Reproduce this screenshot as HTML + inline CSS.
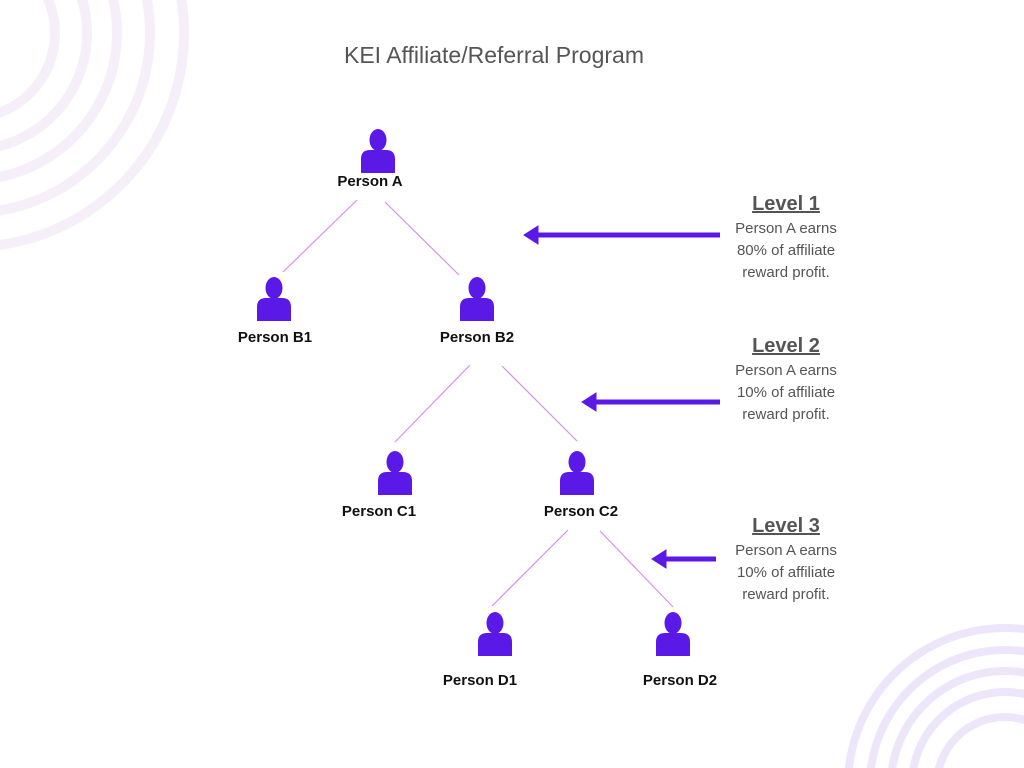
<!DOCTYPE html>
<html><head><meta charset="utf-8"><style>
html,body{margin:0;padding:0;width:1024px;height:768px;background:#fff;overflow:hidden;font-family:"Liberation Sans",sans-serif;}
svg{display:block;}
</style></head><body>
<svg width="1024" height="768" viewBox="0 0 1024 768" xmlns="http://www.w3.org/2000/svg">
<defs>
<g id="p">
<ellipse cx="0" cy="-11" rx="8.5" ry="11" fill="#5b19e8"/>
<path d="M-17,22 L-17,8 Q-17,-1 -8,-1 L8,-1 Q17,-1 17,8 L17,22 Z" fill="#5b19e8"/>
</g>
</defs>
<g fill="none" stroke="#f6effa" stroke-width="10">
<circle cx="-30" cy="33" r="85"/><circle cx="-30" cy="33" r="117"/><circle cx="-30" cy="33" r="147"/><circle cx="-30" cy="33" r="180"/><circle cx="-30" cy="33" r="214"/>
</g>
<g fill="none" stroke="#ede6fb" stroke-width="8">
<circle cx="1005" cy="785" r="68"/><circle cx="1005" cy="785" r="93"/><circle cx="1005" cy="785" r="114"/><circle cx="1005" cy="785" r="135"/><circle cx="1005" cy="785" r="157"/>
</g>
<text x="494" y="63" text-anchor="middle" font-size="23" fill="#555">KEI Affiliate/Referral Program</text>
<g stroke="#d98ef0" stroke-width="1.2">
<line x1="357" y1="200" x2="283" y2="272"/><line x1="385" y1="202" x2="459" y2="275"/>
<line x1="470" y1="365" x2="395" y2="442"/><line x1="502" y1="366" x2="577" y2="441"/>
<line x1="568" y1="530" x2="492" y2="606"/><line x1="600" y1="531" x2="673" y2="607"/>
</g>
<use href="#p" x="378" y="151"/><use href="#p" x="274" y="299"/><use href="#p" x="477" y="299"/>
<use href="#p" x="395" y="473"/><use href="#p" x="577" y="473"/><use href="#p" x="495" y="634"/><use href="#p" x="673" y="634"/>
<g font-size="15" font-weight="bold" fill="#111" text-anchor="middle">
<text x="370" y="186">Person A</text>
<text x="275" y="342">Person B1</text><text x="477" y="342">Person B2</text>
<text x="379" y="516">Person C1</text><text x="581" y="516">Person C2</text>
<text x="480" y="685">Person D1</text><text x="680" y="685">Person D2</text>
</g>
<g stroke="#5b19e8" stroke-width="5" fill="#5b19e8">
<line x1="720" y1="235" x2="535" y2="235"/><path d="M524,235 L538,226 L538,244 Z" stroke-width="1"/>
<line x1="720" y1="402" x2="593" y2="402"/><path d="M582,402 L596,393 L596,411 Z" stroke-width="1"/>
<line x1="716" y1="559" x2="663" y2="559"/><path d="M652,559 L666,550 L666,568 Z" stroke-width="1"/>
</g>
<g fill="#555" text-anchor="middle">
<text x="786" y="210" font-size="20" font-weight="bold" text-decoration="underline">Level 1</text>
<text x="786" y="233" font-size="15">Person A earns</text><text x="786" y="255" font-size="15">80% of affiliate</text><text x="786" y="277" font-size="15">reward profit.</text>
<text x="786" y="352" font-size="20" font-weight="bold" text-decoration="underline">Level 2</text>
<text x="786" y="375" font-size="15">Person A earns</text><text x="786" y="397" font-size="15">10% of affiliate</text><text x="786" y="419" font-size="15">reward profit.</text>
<text x="786" y="532" font-size="20" font-weight="bold" text-decoration="underline">Level 3</text>
<text x="786" y="555" font-size="15">Person A earns</text><text x="786" y="577" font-size="15">10% of affiliate</text><text x="786" y="599" font-size="15">reward profit.</text>
</g>
</svg>
</body></html>
